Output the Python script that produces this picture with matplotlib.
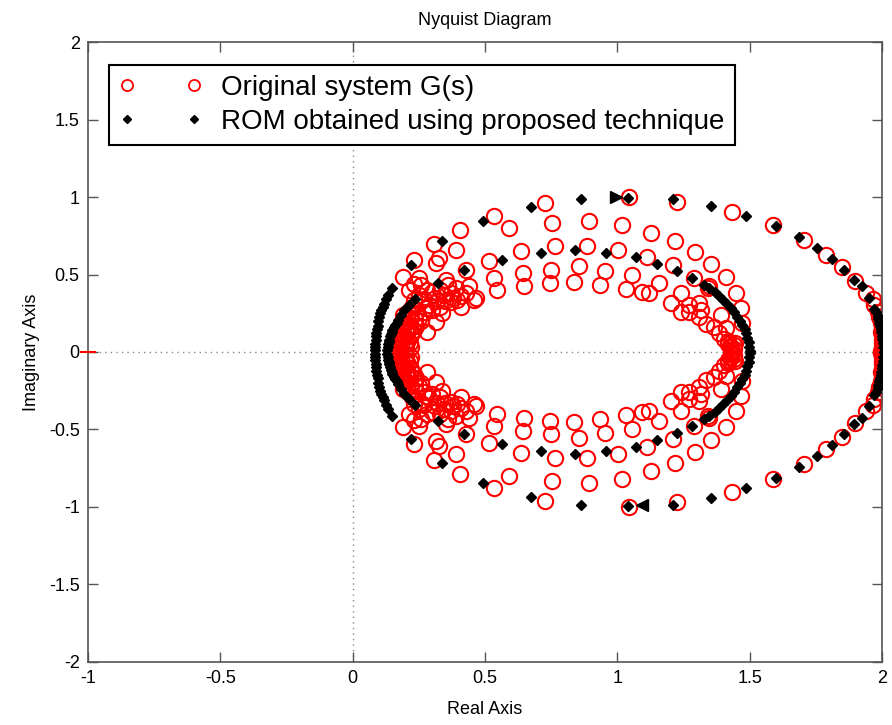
import matplotlib as mpl
mpl.use("Agg")
import matplotlib.pyplot as plt
import numpy as np
from matplotlib.lines import Line2D

# Nyquist points, upper half (Im >= 0); the lower half is the conjugate mirror
orig_re = [2.002, 1.99, 1.971, 1.94, 1.899, 1.851, 1.788, 1.706, 1.59, 1.432,
           1.224, 1.045, 0.726, 0.534, 0.405, 0.307, 0.232, 0.19,
           2.0, 2.0, 2.0, 2.0, 2.0, 1.998, 1.996, 1.985, 1.965, 1.995, 2.003,
           0.591, 0.392, 0.635, 0.326, 0.314, 0.515, 0.427, 0.251, 0.534,
           0.642, 0.648, 0.547, 0.352, 0.44, 0.465, 0.213, 0.301, 0.32,
           0.371, 0.396, 0.339, 0.276, 0.251, 0.232, 0.408, 0.459, 0.314, 0.282,
           0.755, 0.893, 1.016, 1.127, 1.217, 1.293, 1.355,
           0.764, 0.887, 1.003, 1.112, 1.212, 1.29,
           0.751, 0.745, 0.856, 0.837, 0.953, 0.935, 1.057, 1.032, 1.158,
           1.095, 1.12, 1.24, 1.202, 1.309, 1.271, 1.334,
           1.41, 1.448, 1.467, 1.473, 1.341, 1.347, 1.27, 1.316, 1.24, 1.31,
           1.366, 1.385, 1.404, 1.391, 1.41,
           1.42, 1.43, 1.43, 1.44, 1.44, 1.42, 1.435, 1.425, 1.445,
           0.16, 0.17, 0.18, 0.19, 0.2, 0.21, 0.18, 0.2, 0.21, 0.22, 0.23,
           0.24, 0.2, 0.22, 0.17, 0.19, 0.22, 0.26, 0.27, 0.29, 0.33, 0.35,
           0.37, 0.41, 0.43, 0.24, 0.21, 0.26, 0.28, 0.33, 0.36, 0.26, 0.23,
           0.165, 0.175, 0.185, 0.195, 0.205, 0.215, 0.17, 0.185, 0.2, 0.215,
           0.19, 0.205, 0.225, 0.235, 0.25, 0.27, 0.3, 0.31, 0.345, 0.38, 0.39]
orig_im = [0.153, 0.228, 0.304, 0.38, 0.46, 0.546, 0.625, 0.72, 0.822, 0.904,
           0.97, 0.999, 0.962, 0.875, 0.785, 0.695, 0.595, 0.487,
           0.11, 0.08, 0.055, 0.035, 0.018, 0.005, 0.19, 0.26, 0.34, 0.13, 0.065,
           0.80, 0.66, 0.65, 0.606, 0.574, 0.59, 0.53, 0.477, 0.477,
           0.509, 0.423, 0.40, 0.466, 0.423, 0.347, 0.40, 0.39, 0.326,
           0.38, 0.336, 0.25, 0.282, 0.218, 0.336, 0.293, 0.336, 0.196, 0.131,
           0.83, 0.848, 0.822, 0.771, 0.714, 0.643, 0.565,
           0.682, 0.682, 0.656, 0.61, 0.559, 0.477,
           0.531, 0.445, 0.552, 0.451, 0.52, 0.433, 0.498, 0.408, 0.445,
           0.39, 0.38, 0.38, 0.315, 0.315, 0.261, 0.18,
           0.481, 0.38, 0.282, 0.185, 0.412, 0.423, 0.303, 0.272, 0.26, 0.228,
           0.164, 0.12, 0.085, 0.239, 0.153,
           0.05, 0.03, 0.01, 0.02, 0.045, 0.07, 0.0, 0.04, 0.06,
           0.02, 0.05, 0.08, 0.11, 0.14, 0.17, 0.02, 0.05, 0.08, 0.11, 0.14,
           0.17, 0.02, 0.03, 0.12, 0.18, 0.22, 0.2, 0.26, 0.3, 0.29, 0.33,
           0.32, 0.36, 0.38, 0.25, 0.26, 0.33, 0.40, 0.40, 0.43, 0.43, 0.44,
           0.0, 0.035, 0.065, 0.095, 0.125, 0.155, 0.09, 0.13, 0.19, 0.06,
           0.24, 0.23, 0.29, 0.21, 0.37, 0.34, 0.27, 0.35, 0.37, 0.35, 0.41]

rom_re = [0.084, 0.085, 0.086, 0.087, 0.088, 0.09, 0.092, 0.094, 0.097, 0.1,
          0.104, 0.108, 0.113, 0.118, 0.125, 0.133, 0.15, 0.219,
          0.336, 0.494, 0.675, 0.862, 1.042, 1.212, 1.353, 1.488, 1.599, 1.685,
          1.754, 1.811, 1.857, 1.895, 1.924, 1.952, 1.971, 1.987, 1.996, 2.002,
          2.006, 2.005, 2.004, 2.0, 1.998, 1.993, 1.99, 1.984, 1.977,
          0.131, 0.132, 0.134, 0.136, 0.138, 0.141, 0.144, 0.147, 0.15, 0.155,
          0.16, 0.166, 0.173, 0.183, 0.194, 0.214, 0.236, 0.323,
          0.421, 0.566, 0.711, 0.839, 0.957, 1.07, 1.149, 1.224, 1.282, 1.328,
          1.345, 1.369, 1.385, 1.401, 1.415, 1.429, 1.442, 1.454, 1.464, 1.473,
          1.481, 1.488, 1.492, 1.496, 1.499, 1.501]
rom_im = [0.01, 0.03, 0.05, 0.075, 0.1, 0.125, 0.15, 0.17, 0.2, 0.225,
          0.25, 0.27, 0.29, 0.31, 0.34, 0.37, 0.41, 0.563,
          0.715, 0.844, 0.937, 0.988, 0.995, 0.985, 0.94, 0.877, 0.815, 0.742,
          0.67, 0.597, 0.53, 0.466, 0.423, 0.347, 0.28, 0.215, 0.15, 0.085,
          0.0, 0.03, 0.06, 0.105, 0.13, 0.17, 0.19, 0.235, 0.26,
          0.01, 0.03, 0.05, 0.065, 0.08, 0.1, 0.115, 0.13, 0.145, 0.16,
          0.175, 0.19, 0.207, 0.24, 0.27, 0.305, 0.34, 0.445,
          0.526, 0.595, 0.64, 0.657, 0.64, 0.61, 0.571, 0.523, 0.477, 0.433,
          0.41, 0.386, 0.36, 0.336, 0.31, 0.282, 0.255, 0.228, 0.2, 0.175,
          0.148, 0.12, 0.09, 0.063, 0.035, 0.005]

# direction arrows on the ROM locus
arrow_up = (0.994, 1.0)
arrow_dn = (1.095, -0.99)

xticks = [-1, -0.5, 0, 0.5, 1, 1.5, 2]
yticks = [-2, -1.5, -1, -0.5, 0, 0.5, 1, 1.5, 2]

mpl.rc("font", family=["Liberation Sans Narrow", "Liberation Sans", "DejaVu Sans"])

fig = plt.figure(figsize=(8.92, 7.25), dpi=100)
ax = fig.add_axes([0.0987, 0.087, 0.890, 0.855])

axis_gray = "#555555"
ax.axhline(0, color="#888888", linestyle=(0, (1, 3)), linewidth=1.0, zorder=1)
ax.axvline(0, color="#888888", linestyle=(0, (1, 3)), linewidth=1.0, zorder=1)

ore = np.array(orig_re)
oim = np.array(orig_im)
rre = np.array(rom_re)
rim = np.array(rom_im)

circle_kw = dict(linestyle="none", marker="o", markersize=11, markerfacecolor="none",
                 markeredgecolor="red", markeredgewidth=1.5, zorder=2)
diamond_kw = dict(linestyle="none", marker="D", markersize=5.5, color="black", zorder=3)

ax.plot(np.concatenate([ore, ore]), np.concatenate([oim, -oim]), **circle_kw)
ax.plot(np.concatenate([rre, rre]), np.concatenate([rim, -rim]), **diamond_kw)

ax.plot(*arrow_up, marker=">", markersize=9, color="black", linestyle="none", zorder=4)
ax.plot(*arrow_dn, marker="<", markersize=9, color="black", linestyle="none", zorder=4)

# critical point
ax.plot(-1, 0, marker="_", markersize=12, markeredgewidth=1.5, color="red",
        clip_on=False, zorder=5)

ax.set_xlim(-1, 2)
ax.set_ylim(-2, 2)
ax.set_xticks(xticks)
ax.set_yticks(yticks)
ax.set_xticklabels([f"{v:g}" for v in xticks])
ax.set_yticklabels([f"{v:g}" for v in yticks])
ax.tick_params(axis="both", direction="in", length=7, width=1.0, color=axis_gray,
               labelsize=13, top=True, right=True, pad=6)
for s in ax.spines.values():
    s.set_color(axis_gray)
    s.set_linewidth(1.2)

ax.set_title("Nyquist Diagram", fontsize=13, pad=12)
ax.set_xlabel("Real Axis", fontsize=13, labelpad=10)
ax.set_ylabel("Imaginary Axis", fontsize=13, labelpad=6)

handles = [
    Line2D([], [], linestyle="none", marker="o", markersize=8, markerfacecolor="none",
           markeredgecolor="red", markeredgewidth=1.3),
    Line2D([], [], linestyle="none", marker="D", markersize=4, color="black"),
]
leg = ax.legend(handles, ["Original system G(s)", "ROM obtained using proposed technique"],
                loc="upper left", bbox_to_anchor=(0.0264, 0.963), borderaxespad=0,
                numpoints=2, handlelength=3.0, handletextpad=0.7, fontsize=20,
                fancybox=False, framealpha=1, edgecolor="black", borderpad=0.35,
                labelspacing=0.3)
leg.get_frame().set_linewidth(1.5)

fig.savefig("out.png", dpi=100)
